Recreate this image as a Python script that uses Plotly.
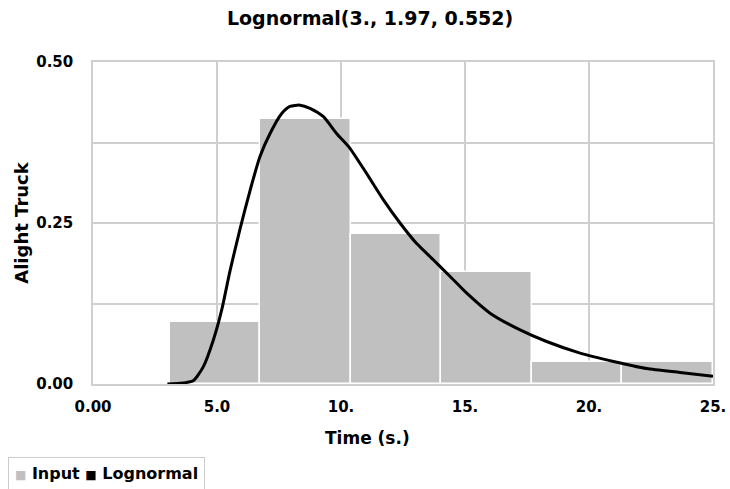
import plotly.graph_objects as go

# Histogram of observed alight-truck times (fraction per bin)
bin_edges = [3.1, 6.75, 10.4, 14.05, 17.7, 21.35, 25.0]
bin_fractions = [0.096, 0.411, 0.233, 0.174, 0.034, 0.034]

# Fitted lognormal curve, scaled to the bin width
curve_x = [3.0, 3.5, 4.04, 4.45, 4.85, 5.19, 5.52, 5.93, 6.33, 6.73, 7.14,
           7.61, 7.94, 8.35, 8.75, 9.29, 9.82, 10.36, 11.03, 11.71, 12.38,
           13.05, 13.72, 14.40, 15.07, 16.01, 17.22, 18.29, 19.64, 20.99,
           22.33, 23.67, 25.0]
curve_y = [0.0, 0.001, 0.005, 0.027, 0.068, 0.115, 0.175, 0.241, 0.300, 0.353,
           0.389, 0.420, 0.431, 0.433, 0.428, 0.415, 0.389, 0.366, 0.327,
           0.286, 0.250, 0.218, 0.193, 0.167, 0.141, 0.110, 0.084, 0.066,
           0.048, 0.035, 0.024, 0.018, 0.012]

x_tickvals = [0, 5, 10, 15, 20, 25]
x_ticktext = ["0.00", "5.0", "10.", "15.", "20.", "25."]
y_tickvals = [0, 0.125, 0.25, 0.375, 0.5]
y_ticktext = ["0.00", "", "0.25", "", "0.50"]

centers = [(a + b) / 2 for a, b in zip(bin_edges[:-1], bin_edges[1:])]
widths = [b - a for a, b in zip(bin_edges[:-1], bin_edges[1:])]

FONT = "DejaVu Sans, Verdana, sans-serif"
GRID = "#cfcfcf"
BAR = "#c0c0c0"

fig = go.Figure()
fig.add_trace(go.Bar(
    x=centers, y=bin_fractions, width=widths, name="Input", showlegend=False,
    marker=dict(color=BAR, line=dict(color="white", width=1.5)),
))
fig.add_trace(go.Scatter(
    x=curve_x, y=curve_y, mode="lines", name="Lognormal", showlegend=False,
    line=dict(color="black", width=3, shape="spline", smoothing=0.6),
))

# x-axis title, centred on the whole figure
fig.add_annotation(
    text="Time (s.)", xref="paper", yref="paper", x=0.442, y=-0.168,
    xanchor="center", yanchor="middle", showarrow=False,
    font=dict(family=FONT, size=17, weight="bold", color="black"),
)

# compact legend box under the axis
legend_text = (
    f'<span style="color:{BAR};font-size:12px">■</span> Input '
    '<span style="color:black;font-size:12px">■</span> Lognormal'
)
fig.add_annotation(
    text=legend_text, xref="paper", yref="paper",
    x=-0.137, xanchor="left", y=-0.228, yanchor="top",
    showarrow=False, align="left",
    font=dict(family=FONT, size=16, weight="bold", color="black"),
    bordercolor="#cccccc", borderwidth=1, borderpad=6, bgcolor="white",
)

axis_common = dict(
    showgrid=True, gridcolor=GRID, gridwidth=1.5, zeroline=False,
    showline=True, linecolor=GRID, linewidth=1.5, mirror=True,
    automargin=False, tickcolor="rgba(0,0,0,0)", ticks="outside",
)

fig.update_layout(
    width=730, height=489,
    margin=dict(l=93, r=17, t=62, b=105),
    paper_bgcolor="white", plot_bgcolor="white",
    font=dict(family=FONT, color="black"),
    title=dict(text="Lognormal(3., 1.97, 0.552)", x=0.507, xref="container",
               xanchor="center", y=0.963, yanchor="middle",
               font=dict(size=19, weight="bold")),
    bargap=0,
    showlegend=False,
    xaxis=dict(range=[0, 25], tickvals=x_tickvals, ticktext=x_ticktext,
               tickfont=dict(size=15, weight="bold"), ticklen=8,
               **axis_common),
    yaxis=dict(range=[0, 0.5], tickvals=y_tickvals, ticktext=y_ticktext,
               tickfont=dict(size=15, weight="bold"), ticklen=15,
               title=dict(text="Alight Truck", font=dict(size=18, weight="bold"),
                          standoff=3),
               **axis_common),
)

fig.write_html("out.html")
